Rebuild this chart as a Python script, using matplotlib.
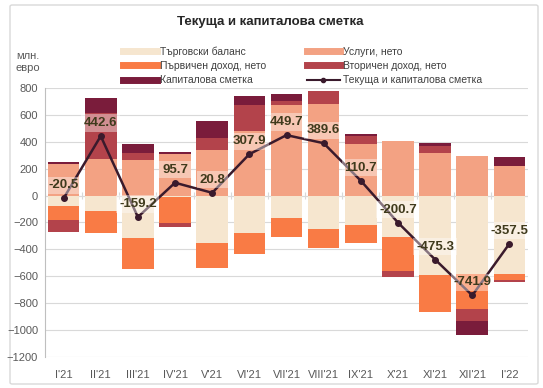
import numpy as np
import matplotlib.pyplot as plt
from matplotlib.patches import FancyBboxPatch
from matplotlib.lines import Line2D

plt.rcParams['font.family'] = ['Liberation Sans Narrow', 'Liberation Sans', 'DejaVu Sans']

months = ["I'21", "II'21", "III'21", "IV'21", "V'21", "VI'21", "VII'21",
          "VIII'21", "IX'21", "X'21", "XI'21", "XII'21", "I'22"]
trade = [-80, -118, -318, -12, -350, -275, -165, -250, -222, -305, -592, -585, -585]
services = [236, 270, 268, 312, 340, 480, 670, 680, 385, 404, 315, 295, 217]
primary = [-104, -162, -228, -192, -187, -160, -140, -140, -128, -257, -275, -257, -45]
secondary = [-88, 342, 52, -26, 91, 195, 30, 99.6, 60, -42.7, 54, -93, -15]
capital = [15.5, 110.6, 66.8, 13.7, 126.8, 67.9, 54.7, 0, 15.7, 0, 22.7, -101.9, 70.5]
total = [-20.5, 442.6, -159.2, 95.7, 20.8, 307.9, 449.7, 389.6, 110.7,
         -200.7, -475.3, -741.9, -357.5]

names = ["Търговски баланс", "Услуги, нето", "Първичен доход, нето",
         "Вторичен доход, нето", "Капиталова сметка"]
colors = ["#F6E6CF", "#F3A283", "#F97B45", "#B3434B", "#7A1C3B"]
line_name = "Текуща и капиталова сметка"
line_col = "#3A1A2C"

fig = plt.figure(figsize=(5.43, 3.88), dpi=100)
fig.patches.append(FancyBboxPatch((10/543, 1 - 384/388), 528/543, 379/388,
                                  boxstyle="round,pad=0,rounding_size=0.004",
                                  transform=fig.transFigure, fc="white",
                                  ec="#D9D9D9", lw=1.0, zorder=-10))

ax = fig.add_axes([45/543, 1 - 357/388, 483/543, 269/388])
x = np.arange(len(months))
pos = np.zeros(len(months))
neg = np.zeros(len(months))
for vals, c, n in zip([trade, services, primary, secondary, capital], colors, names):
    v = np.array(vals, dtype=float)
    base = np.where(v >= 0, pos, neg)
    ax.bar(x, v, 0.85, bottom=base, color=c, label=n, zorder=2)
    pos = pos + np.where(v >= 0, v, 0)
    neg = neg + np.where(v < 0, v, 0)

ax.plot(x, total, color=line_col, lw=1.8, marker='o', ms=4, zorder=4)
for xi, t in zip(x, total):
    ax.annotate(f"{t:.1f}", (xi, t), xytext=(0, 13), textcoords='offset pixels',
                ha='center', va='center', fontsize=9.5, fontweight='bold',
                color="#3F3A1C", zorder=5,
                bbox=dict(boxstyle='square,pad=0.2', fc='white', ec='none', alpha=0.4))

ax.set_ylim(-1200, 800)
ax.set_xlim(-0.5, len(months) - 0.5)
ax.set_yticks(np.arange(-1200, 801, 200))
ax.grid(axis='y', color='#D9D9D9', lw=0.8, zorder=0)
ax.set_xticks(x)
ax.set_xticklabels(months)
ax.tick_params(axis='both', length=0, labelsize=8, colors='#595959')
ax.tick_params(axis='x', pad=9)
ax.tick_params(axis='y', pad=5)
for s in ['top', 'right', 'bottom']:
    ax.spines[s].set_visible(False)
ax.spines['left'].set_color('#BFBFBF')
ax.axhline(0, color='#D9D9D9', lw=0.8, zorder=1)
ax.vlines(np.arange(len(months) + 1) - 0.5, -25, 25, color='#D9D9D9', lw=0.8, zorder=1)

fig.text(270/543, 1 - 22/388, "Текуща и капиталова сметка", ha='center', va='center',
         fontsize=9.5, fontweight='bold', color='#262626')
fig.text(16/543, 1 - 62/388, "млн.\nевро", ha='left', va='center', fontsize=8,
         color='#595959', linespacing=1.3)

handles = [Line2D([], [], color=c, lw=5) for c in colors]
handles.append(Line2D([], [], color=line_col, lw=1.5, marker='o', ms=3))
labels = names + [line_name]
order = [0, 2, 4, 1, 3, 5]
fig.legend([handles[i] for i in order], [labels[i] for i in order], ncol=2,
           loc='upper left', bbox_to_anchor=(114/543, 1 - 37/388), frameon=False,
           fontsize=7.5, handlelength=3.2, handletextpad=0.3, columnspacing=3.9,
           labelspacing=0.4, labelcolor='#404040')

fig.savefig("out.png", dpi=100)
